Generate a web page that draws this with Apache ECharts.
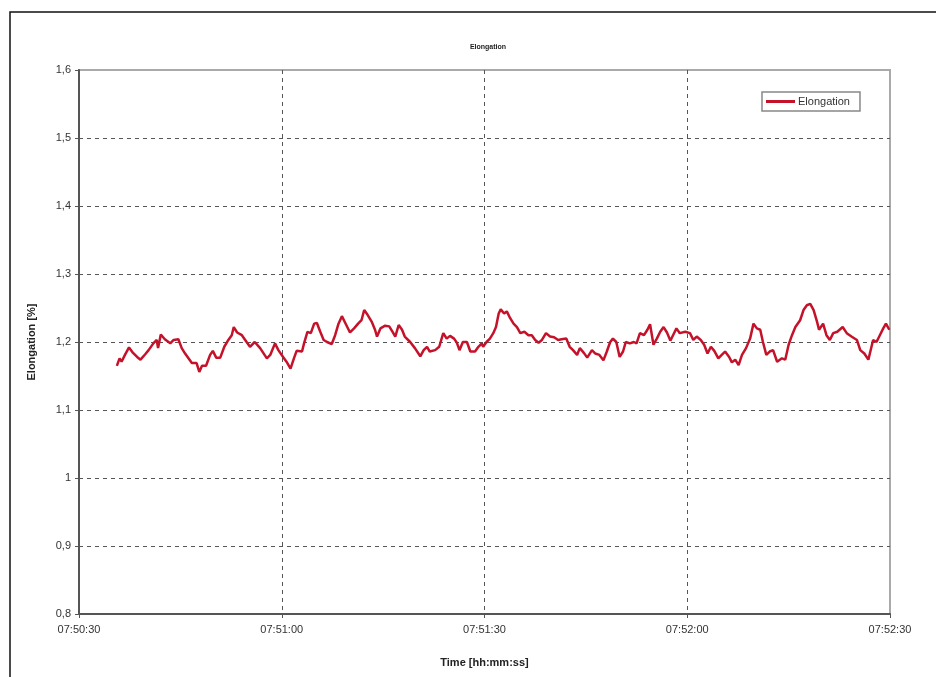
<!DOCTYPE html>
<html>
<head>
<meta charset="utf-8">
<script src="https://cdn.jsdelivr.net/npm/echarts@6/dist/echarts.min.js"></script>
<style>html,body{margin:0;padding:0;background:#fff}#c{width:936px;height:677px}</style>
</head>
<body>
<div id="c"></div>
<script>
// seconds after 07:50:30
const seconds = [5.6,6.0,6.3,6.8,7.4,8.0,8.6,9.1,9.8,10.3,11.0,11.5,11.7,12.1,12.7,13.5,14.0,14.7,15.2,15.7,16.2,16.7,17.4,17.8,18.2,18.8,19.4,19.8,20.3,20.9,21.5,22.1,22.6,22.9,23.4,24.1,24.8,25.3,26.0,26.8,27.8,28.3,29.0,29.5,30.2,30.7,31.3,31.8,
32.2,33.0,33.3,33.8,34.3,34.8,35.2,35.7,36.2,36.7,37.4,37.9,38.4,38.9,39.4,40.1,40.7,41.3,41.8,42.2,42.7,43.3,43.8,44.1,44.6,45.3,45.9,46.4,46.8,47.3,47.8,48.2,49.0,49.7,50.5,51.0,51.5,51.9,52.7,53.3,53.9,54.4,54.9,55.5,55.9,56.3,56.8,57.4,57.9,58.6,59.1,59.6,
59.8,60.3,60.8,61.3,61.7,62.1,62.4,62.9,63.3,63.8,64.3,64.8,65.3,65.9,66.5,67.0,67.5,68.0,68.5,69.1,69.7,70.3,70.9,71.4,72.1,72.6,73.1,73.7,74.1,74.7,75.2,75.9,76.4,77.0,77.6,78.1,78.6,79.0,79.5,80.0,80.5,80.9,81.5,82.1,82.5,83.0,83.6,84.1,84.5,85.0,85.5,86.0,86.5,87.0,87.5,87.9,88.4,
88.9,89.7,90.4,90.9,91.4,92.0,92.5,93.0,93.5,94.0,94.6,95.1,95.6,96.2,96.6,97.1,97.6,98.1,98.7,99.3,99.8,100.3,100.8,101.2,101.7,102.2,102.7,103.3,104.0,104.5,105.0,105.5,106.0,106.7,107.2,107.7,108.2,108.7,109.2,109.5,110.1,110.6,111.1,111.6,112.2,113.0,113.6,114.3,115.1,115.6,116.2,116.8,117.5,118.0,118.5,119.0,119.4,119.9];
const elongation = [1.165,1.176,1.171,1.181,1.192,1.184,1.178,1.174,1.182,1.188,1.198,1.203,1.191,1.211,1.204,1.198,1.203,1.204,1.191,1.183,1.176,1.169,1.169,1.156,1.165,1.165,1.181,1.187,1.177,1.177,1.193,1.203,1.210,1.222,1.214,1.210,1.200,1.193,1.200,1.191,1.176,1.181,1.198,1.188,1.178,1.171,1.161,1.176,
1.187,1.186,1.198,1.215,1.213,1.227,1.228,1.215,1.203,1.200,1.197,1.210,1.227,1.238,1.228,1.214,1.220,1.227,1.232,1.247,1.240,1.230,1.218,1.208,1.220,1.224,1.223,1.215,1.208,1.225,1.218,1.208,1.200,1.191,1.179,1.188,1.193,1.186,1.188,1.193,1.213,1.205,1.209,1.205,1.199,1.188,1.200,1.200,1.186,1.186,1.193,1.198,
1.193,1.200,1.205,1.213,1.222,1.242,1.248,1.242,1.245,1.235,1.227,1.222,1.213,1.215,1.210,1.210,1.203,1.199,1.203,1.213,1.208,1.207,1.203,1.204,1.205,1.193,1.188,1.181,1.191,1.184,1.177,1.188,1.183,1.181,1.173,1.186,1.200,1.205,1.200,1.178,1.186,1.200,1.198,1.200,1.198,1.213,1.210,1.218,1.226,1.196,1.205,1.215,1.222,1.214,1.202,1.210,1.220,
1.213,1.215,1.213,1.203,1.208,1.203,1.196,1.183,1.193,1.187,1.176,1.181,1.186,1.178,1.170,1.174,1.166,1.181,1.191,1.205,1.227,1.220,1.218,1.200,1.181,1.186,1.188,1.171,1.176,1.174,1.196,1.210,1.222,1.232,1.247,1.254,1.256,1.247,1.230,1.218,1.227,1.210,1.203,1.213,1.215,1.222,1.213,1.208,1.203,1.188,1.183,1.174,1.203,1.200,1.210,1.220,1.227,1.218];
const xTickLabels = ['07:50:30','07:51:00','07:51:30','07:52:00','07:52:30'];
const xStart = 28230; // 07:50:30 in seconds of day

const FONT = 'Liberation Sans';
const chart = echarts.init(document.getElementById('c'), null, {renderer: 'canvas'});
chart.setOption({
  backgroundColor: '#fff',
  animation: false,
  textStyle: {fontFamily: FONT},
  title: {
    text: 'Elongation', left: 483, top: 39, textAlign: 'center',
    textStyle: {fontSize: 7, fontWeight: 'bold', color: '#222', fontFamily: FONT}
  },
  legend: {
    left: 762, top: 92, data: ['Elongation'],
    icon: 'rect', itemWidth: 29, itemHeight: 3, itemGap: 4,
    borderColor: '#888', borderWidth: 1.5, padding: [4, 10, 4, 4],
    textStyle: {fontSize: 11, color: '#333', fontFamily: FONT, padding: [0, 0, 0, -2]}
  },
  graphic: [{
    type: 'rect', shape: {x: 10, y: 12, width: 1000, height: 1000},
    style: {fill: 'none', stroke: '#111', lineWidth: 1.5}, silent: true
  }],
  grid: {left: 79, right: 46, top: 70, bottom: 63, show: true, borderColor: '#aaa', borderWidth: 2, containLabel: false},
  xAxis: {
    type: 'value', min: xStart, max: xStart + 120, interval: 30,
    name: 'Time [hh:mm:ss]', nameLocation: 'middle', nameGap: 43,
    nameTextStyle: {fontSize: 11, fontWeight: 'bold', color: '#222', fontFamily: FONT},
    axisLine: {show: true, lineStyle: {color: '#555', width: 2}},
    axisTick: {show: true, length: 4, lineStyle: {color: '#555'}},
    axisLabel: {fontSize: 11, color: '#333', margin: 10, fontFamily: FONT,
      formatter: v => xTickLabels[Math.round((v - xStart) / 30)]},
    splitLine: {show: true, showMaxLine: false, showMinLine: false, lineStyle: {color: '#555', type: [4, 4], width: 1}}
  },
  yAxis: {
    type: 'value', min: 0.8, max: 1.6, interval: 0.1,
    name: 'Elongation [%]', nameLocation: 'middle', nameGap: 42, nameRotate: 90,
    nameTextStyle: {fontSize: 11, fontWeight: 'bold', color: '#222', fontFamily: FONT},
    axisLine: {show: true, lineStyle: {color: '#555', width: 2}},
    axisTick: {show: true, length: 4, lineStyle: {color: '#555'}},
    axisLabel: {fontSize: 11, color: '#333', margin: 8, fontFamily: FONT,
      formatter: v => String(Math.round(v * 10) / 10).replace('.', ',')},
    splitLine: {show: true, showMaxLine: false, showMinLine: false, lineStyle: {color: '#555', type: [4, 4], width: 1}}
  },
  series: [{
    name: 'Elongation', type: 'line', symbol: 'none', smooth: false,
    color: '#c4122a',
    lineStyle: {color: '#c4122a', width: 2.5},
    data: seconds.map((s, i) => [xStart + s, elongation[i]])
  }]
});
</script>
</body>
</html>
